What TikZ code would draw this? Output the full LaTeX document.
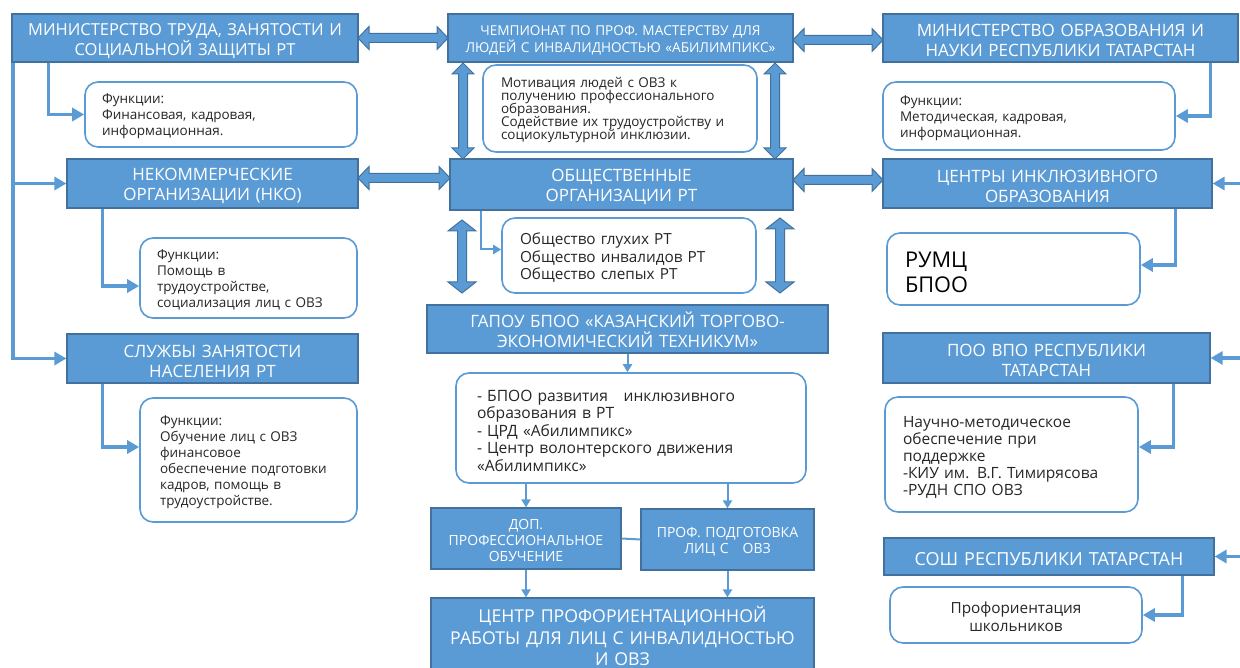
\documentclass[tikz,border=0pt]{standalone}
\usepackage{fontspec}
\setmainfont{Open Sans}
\usetikzlibrary{arrows.meta}
\definecolor{blueA}{HTML}{5B9BD5}
\definecolor{blueD}{HTML}{41719C}
\definecolor{txt}{HTML}{262626}
\newcommand\tightskip{\lineskiplimit=-10pt\relax}
\tikzset{
  hdr/.style={draw=blueD, fill=blueA, line width=1.2pt, text=white, align=center, inner sep=0pt, text width=#1, minimum width=#1, font=\fontsize{17}{20}\selectfont, execute at begin node={\rule{0pt}{1.05em}}},
  fbox/.style={draw=blueA, line width=1.6pt, rounded corners=13pt, fill=white, text=txt, inner xsep=17pt, inner ysep=0pt, align=left, font=\fontsize{13.5}{16}\selectfont, execute at begin node={\rule{0pt}{1.05em}}},
  conn/.style={draw=blueA, line width=3.5pt, -{Triangle[length=12pt,width=13pt]}},
  lnk/.style={draw=blueA, line width=2pt, -{Triangle[length=8pt,width=9pt]}},
  fat/.style={draw=blueD, fill=blueA, line width=1pt, line join=miter}
}
% fat double arrows: x1, x2, y, half head / x, y1, y2, half head
\newcommand\fatH[4]{\draw[fat] (#1,#3) -- ++(11,-#4) -- ++(0,{#4-4.5}) -- ++({#2-#1-22},0) -- ++(0,{4.5-#4}) -- (#2,#3) -- ++(-11,#4) -- ++(0,{4.5-#4}) -- ++({#1-#2+22},0) -- ++(0,{#4-4.5}) -- cycle;}
\newcommand\fatV[4]{\draw[fat] (#1,#2) -- ++(#4,11) -- ++({4.5-#4},0) -- ++(0,{#3-#2-22}) -- ++({#4-4.5},0) -- (#1,#3) -- ++(-#4,-11) -- ++({#4-4.5},0) -- ++(0,{#2-#3+22}) -- ++({4.5-#4},0) -- cycle;}
\begin{document}
\begin{tikzpicture}[x=1pt,y=-1pt]
  \useasboundingbox (0,0) rectangle (1240,668);
  \node [hdr=346, minimum height=48, font=\fontsize{16.5}{20}\selectfont] (mintrud) at (185,38) {МИНИСТЕРСТВО ТРУДА, ЗАНЯТОСТИ И\\СОЦИАЛЬНОЙ ЗАЩИТЫ РТ};
  \node [hdr=345, minimum height=48, font=\fontsize{13.6}{17}\selectfont, execute at begin node={}] (champ) at (620.5,38) {ЧЕМПИОНАТ ПО ПРОФ. МАСТЕРСТВУ ДЛЯ\\ЛЮДЕЙ С ИНВАЛИДНОСТЬЮ «АБИЛИМПИКС»};
  \node [hdr=355, minimum height=48] (minobr) at (1060.5,38) {МИНИСТЕРСТВО ОБРАЗОВАНИЯ И\\НАУКИ РЕСПУБЛИКИ ТАТАРСТАН};
  \node [fbox, minimum height=65, text width=238] (fun1) at (221,114.5) {Функции:\\Финансовая, кадровая,\\информационная.};
  \node [fbox, minimum height=87, text width=238, inner xsep=18pt, font=\fontsize{13.5}{13}\selectfont\tightskip] (motiv) at (620,108.5) {Мотивация людей с ОВЗ к\\получению профессионального\\образования.\\Содействие их трудоустройству и\\социокультурной инклюзии.};
  \node [fbox, minimum height=68, text width=258] (fun4) at (1029,116) {Функции:\\Методическая, кадровая,\\информационная.};
  \node [hdr=291, minimum height=49] (nko) at (212.5,183.5) {НЕКОММЕРЧЕСКИЕ\\ОРГАНИЗАЦИИ (НКО)};
  \node [hdr=343, minimum height=51] (obsh) at (621.5,184.5) {ОБЩЕСТВЕННЫЕ\\ОРГАНИЗАЦИИ РТ};
  \node [hdr=329, minimum height=49] (centry) at (1047.5,183.5) {ЦЕНТРЫ ИНКЛЮЗИВНОГО\\ОБРАЗОВАНИЯ};
  \node [fbox, minimum height=80, text width=183] (fun2) at (248.5,278) {Функции:\\Помощь в\\трудоустройстве,\\социализация лиц с ОВЗ};
  \node [fbox, minimum height=75, text width=218, inner xsep=18pt, font=\fontsize{15.3}{17.5}\selectfont] (obshestva) at (629,255.5) {Общество глухих РТ\\Общество инвалидов РТ\\Общество слепых РТ};
  \node [fbox, minimum height=72, text width=217, inner xsep=18pt, font=\fontsize{21.7}{25}\selectfont, text=black] (rumc) at (1013.5,269) {РУМЦ\\БПОО};
  \node [hdr=401, minimum height=48] (gapou) at (627.5,329) {ГАПОУ БПОО «КАЗАНСКИЙ ТОРГОВО-\\ЭКОНОМИЧЕСКИЙ ТЕХНИКУМ»};
  \node [hdr=291, minimum height=49] (sluzh) at (212.5,358.5) {СЛУЖБЫ ЗАНЯТОСТИ\\НАСЕЛЕНИЯ РТ};
  \node [hdr=327, minimum height=50] (poo) at (1046.5,358) {ПОО ВПО РЕСПУБЛИКИ\\ТАТАРСТАН};
  \node [fbox, minimum height=124, text width=177, inner xsep=20pt] (fun3) at (248.5,460) {Функции:\\Обучение лиц с ОВЗ\\финансовое\\обеспечение подготовки\\кадров, помощь в\\трудоустройстве.};
  \node [fbox, minimum height=110, text width=308, inner xsep=21pt, font=\fontsize{15.6}{17.5}\selectfont] (list) at (631,428) {- БПОО развития\quad инклюзивного\\образования в РТ\\- ЦРД «Абилимпикс»\\- Центр волонтерского движения\\«Абилимпикс»};
  \node [fbox, minimum height=115, text width=217, inner xsep=18pt, font=\fontsize{15.5}{17}\selectfont] (nauch) at (1011.5,454.5) {Научно-методическое\\обеспечение при\\поддержке\\-КИУ им. В.Г. Тимирясова\\-РУДН СПО ОВЗ};
  \node [hdr=190, minimum height=61, font=\fontsize{14}{16}\selectfont] (dop) at (526,538.5) {ДОП.\\ПРОФЕССИОНАЛЬНОЕ\\ОБУЧЕНИЕ};
  \node [hdr=173, minimum height=61, font=\fontsize{14}{16}\selectfont] (prof) at (727.5,539.5) {ПРОФ. ПОДГОТОВКА\\ЛИЦ С\quad ОВЗ};
  \node [hdr=330, minimum height=37, font=\fontsize{18}{20}\selectfont, execute at begin node={}] (sosh) at (1049,556.5) {СОШ РЕСПУБЛИКИ ТАТАРСТАН};
  \node [fbox, minimum height=56, text width=218, align=center, font=\fontsize{15.3}{18}\selectfont] (proforient) at (1016,615) {Профориентация\\школьников};
  \node [hdr=383, minimum height=74, font=\fontsize{17.7}{21.5}\selectfont, execute at begin node={}] (centr) at (622.5,635) {ЦЕНТР ПРОФОРИЕНТАЦИОННОЙ\\РАБОТЫ ДЛЯ ЛИЦ С ИНВАЛИДНОСТЬЮ\\И ОВЗ};
  \fatH{358}{448}{38}{11.5}
  \fatH{358}{450}{178}{11.5}
  \fatH{793}{883}{40}{11.5}
  \fatH{793}{883}{180}{11.5}
  \fatV{463}{63}{159}{11}
  \fatV{775}{63}{159}{11}
  \fatV{462}{220}{293}{14}
  \fatV{780}{218}{293}{14}
  \draw[conn] ([xshift=37pt]mintrud.south west) |- (fun1.west);
  \draw[conn] ([xshift=1.5pt]mintrud.south west) |- (nko.west);
  \draw[conn] ([xshift=1.5pt]mintrud.south west) |- (sluzh.west);
  \draw[conn] ([xshift=36pt]nko.south west) |- ([yshift=-8pt]fun2.west);
  \draw[conn] ([xshift=36pt]sluzh.south west) |- ([yshift=13pt]fun3.west);
  \draw[conn] ([xshift=-28pt]minobr.south east) |- (fun4.east);
  \draw[conn] ([xshift=-37pt]centry.south east) |- ([yshift=4pt]rumc.east);
  \draw[conn] ([xshift=-37pt]poo.south east) |- ([yshift=7.5pt]nauch.east);
  \draw[conn] ([xshift=-32pt]sosh.south east) |- (proforient.east);
  \coordinate (redge) at (1244,556.5);
  \draw[conn] (redge) |- (centry.east);
  \draw[conn] (redge) |- (poo.east);
  \draw[conn] (redge) -- (sosh.east);
  \draw[lnk] ([xshift=32pt]obsh.south west) |- ([yshift=6pt]obshestva.west);
  \draw[lnk] (gapou.south) -- (gapou.south |- list.north);
  \draw[lnk] (dop.north |- list.south) -- (dop.north);
  \draw[lnk] (prof.north |- list.south) -- (prof.north);
  \draw[lnk] (dop.south) -- (dop.south |- centr.north);
  \draw[lnk] (prof.south) -- (prof.south |- centr.north);
  \draw[blueA, line width=2pt] (dop.east) -- (prof.west);
\end{tikzpicture}
\end{document}
